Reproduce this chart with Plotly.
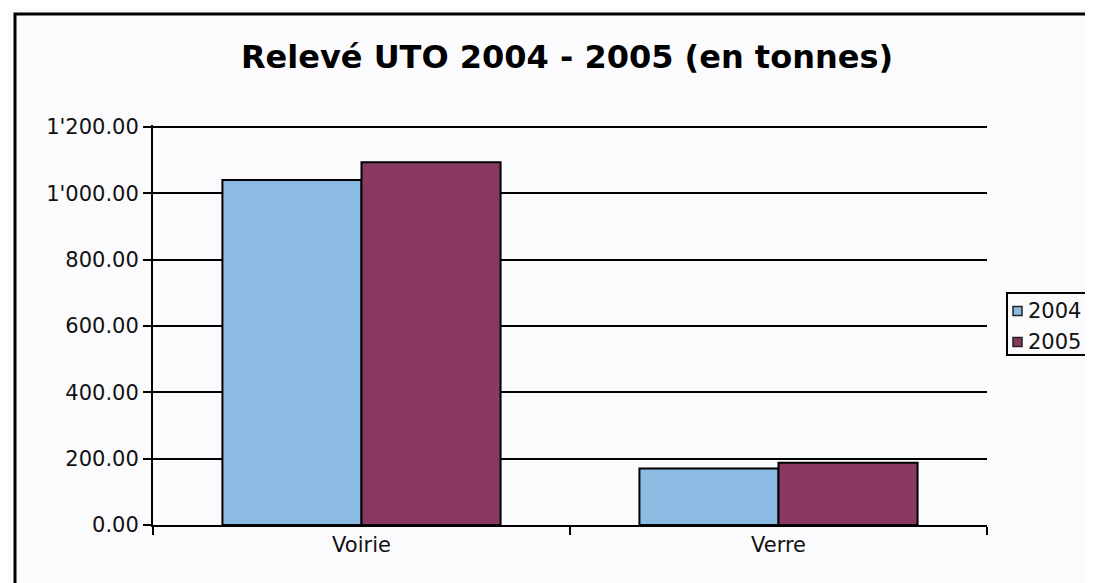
import plotly.graph_objects as go

categories = ["Voirie", "Verre"]
years = ["2004", "2005"]
values_2004 = [1040, 170]
values_2005 = [1094, 188]
y_ticks = [0, 200, 400, 600, 800, 1000, 1200]

colors = {"2004": "#8BBBE3", "2005": "#893862"}
font_family = "Verdana, DejaVu Sans, sans-serif"

fig = go.Figure()
for name, vals in zip(years, [values_2004, values_2005]):
    fig.add_trace(go.Bar(
        x=categories, y=vals, name=name, showlegend=False,
        marker=dict(color=colors[name], line=dict(color="black", width=2)),
    ))

# page body has an 8px margin; work in screen pixels and convert.
OFF = 8
W, H = 1093, 583
Y_MAX = 1206  # slightly above 1200 so the top gridline is drawn inside the plot
scr_l, scr_r, scr_t, scr_b = 153, 987, 125, 525
plot_l, plot_r, plot_t, plot_b = scr_l - OFF, scr_r - OFF, scr_t - OFF, scr_b - OFF

def px_x(p):
    return (p - OFF - plot_l) / (plot_r - plot_l)

def px_y(p):
    return (plot_b - (p - OFF)) / (plot_b - plot_t)

shapes = [
    # outer chart border (runs off the right and bottom edges as in the reference)
    dict(type="rect", xref="paper", yref="paper",
         x0=px_x(15), x1=px_x(1250), y0=px_y(700), y1=px_y(14),
         line=dict(color="black", width=3), fillcolor="rgba(0,0,0,0)",
         layer="above"),
    # legend box
    dict(type="rect", xref="paper", yref="paper",
         x0=px_x(1007), x1=px_x(1250), y0=px_y(355), y1=px_y(293),
         line=dict(color="black", width=2), fillcolor="#fbfbfd",
         layer="above"),
]
annotations = []
legend_rows = [311, 342]
for name, yc in zip(years, legend_rows):
    shapes.append(dict(
        type="rect", xref="paper", yref="paper",
        x0=px_x(1013), x1=px_x(1022), y0=px_y(yc + 4.5), y1=px_y(yc - 4.5),
        line=dict(color="#222222", width=1.5), fillcolor=colors[name],
        layer="above"))
    annotations.append(dict(
        text=name, xref="paper", yref="paper",
        x=px_x(1026), y=px_y(yc), xanchor="left", yanchor="middle",
        showarrow=False, font=dict(size=21, color="#111111")))

fig.update_layout(
    width=W, height=H,
    margin=dict(l=plot_l, r=W - plot_r, t=plot_t, b=H - plot_b),
    paper_bgcolor="#fbfbfd",
    plot_bgcolor="#fbfbfd",
    barmode="group",
    bargap=0.333,
    bargroupgap=0,
    separators=".'",
    showlegend=False,
    font=dict(family=font_family, size=21, color="#111111"),
    title=dict(
        text="<b>Relevé UTO 2004 - 2005 (en tonnes)</b>",
        x=px_x(567), xref="paper", xanchor="center",
        y=1 - (57 - OFF) / H, yanchor="middle",
        font=dict(family=font_family, size=32, color="black"),
    ),
    xaxis=dict(
        showline=True, linecolor="black", linewidth=2,
        ticks="outside", ticklen=8, tickcolor="black", tickwidth=2,
        tickson="boundaries", showgrid=False,
        tickfont=dict(size=21, color="#111111"),
    ),
    yaxis=dict(
        range=[0, Y_MAX], tickvals=y_ticks, tickformat=",.2f",
        showline=True, linecolor="black", linewidth=2,
        ticks="outside", ticklen=8, tickcolor="black", tickwidth=2,
        showgrid=True, gridcolor="black", gridwidth=2,
        zeroline=False,
        tickfont=dict(size=21, color="#111111"),
    ),
    shapes=shapes,
    annotations=annotations,
)

fig.write_html("out.html")
